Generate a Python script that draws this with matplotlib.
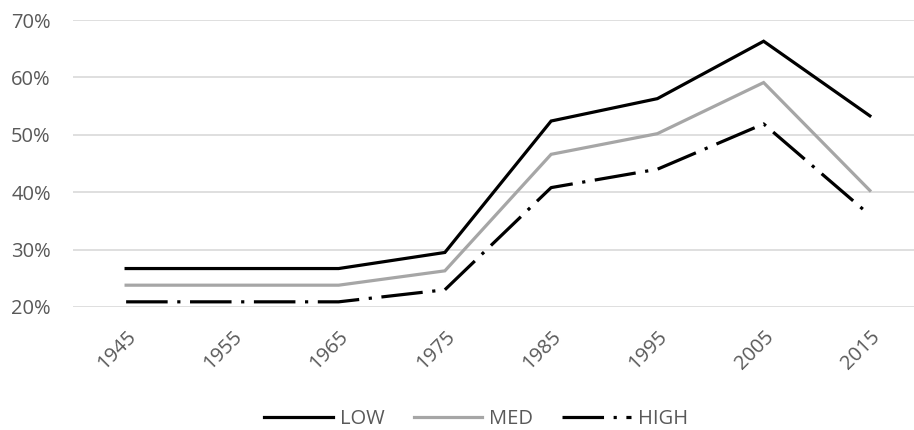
import matplotlib.pyplot as plt
from matplotlib.ticker import PercentFormatter

# Data
years = ['1945', '1955', '1965', '1975', '1985', '1995', '2005', '2015']
low = [26.7, 26.7, 26.7, 29.5, 52.4, 56.3, 66.3, 53.3]
med = [23.8, 23.8, 23.8, 26.3, 46.6, 50.2, 59.1, 40.3]
high = [20.9, 20.9, 20.9, 23.0, 40.8, 44.0, 51.9, 36.0]

plt.rcParams['font.family'] = ['Open Sans', 'DejaVu Sans']
text_col = '#595959'

fig = plt.figure(figsize=(9.14, 4.30), dpi=100)
ax = fig.add_axes([73 / 914, 123 / 430, 850 / 914, 287 / 430])

x = range(len(years))
ax.plot(x, low, color='black', lw=2.3, label='LOW', solid_joinstyle='miter')
ax.plot(x, med, color='#a6a6a6', lw=2.3, label='MED', solid_joinstyle='miter')
ax.plot(x, high, color='black', lw=2.3, label='HIGH',
        linestyle=(0, (13, 3, 1, 3)), dash_capstyle='butt')

ax.set_xlim(-0.5, len(years) - 0.5)
ax.set_ylim(20, 70)
ax.set_yticks([20, 30, 40, 50, 60, 70])
ax.yaxis.set_major_formatter(PercentFormatter(decimals=0))
ax.set_xticks(list(x))
ax.set_xticklabels(years, rotation=45, ha='right', rotation_mode='anchor')

ax.grid(axis='y', color='#d9d9d9', lw=1.2)
ax.set_axisbelow(True)
for s in ax.spines.values():
    s.set_visible(False)
ax.tick_params(axis='both', length=0, colors=text_col, labelsize=14.5)
ax.tick_params(axis='y', pad=16)
ax.tick_params(axis='x', pad=14)

ax.legend(loc='center', bbox_to_anchor=(403 / 850, -0.39), ncol=3,
          frameon=False, handlelength=3.4, handletextpad=0.35, columnspacing=1.45,
          labelcolor=text_col, fontsize=14.5)

fig.savefig('out.png', dpi=100)
